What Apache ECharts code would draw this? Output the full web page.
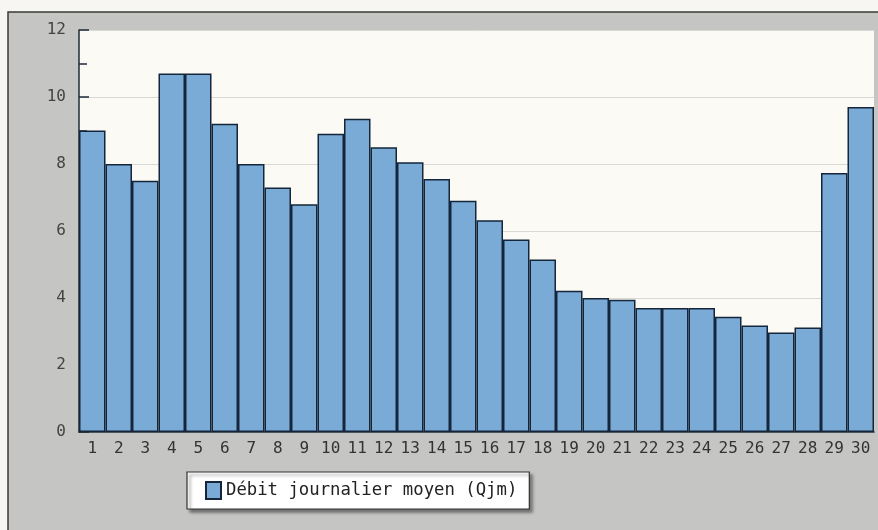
<!DOCTYPE html>
<html><head><meta charset="utf-8">
<script src="https://cdn.jsdelivr.net/npm/echarts@6/dist/echarts.min.js"></script>
<style>html,body{margin:0;padding:0;background:#f7f6f2;}#c{width:878px;height:530px;}</style>
</head><body><div id="c"></div>
<script>
const days = ['1','2','3','4','5','6','7','8','9','10','11','12','13','14','15','16','17','18','19','20','21','22','23','24','25','26','27','28','29','30'];
const qjm = [9.0, 8.0, 7.5, 10.7, 10.7, 9.2, 8.0, 7.3, 6.8, 8.9, 9.35, 8.5, 8.05, 7.55, 6.9, 6.32, 5.75, 5.15, 4.22, 4.0, 3.95, 3.7, 3.7, 3.7, 3.44, 3.18, 2.97, 3.12, 7.73, 9.7];
const yTicks = [0, 2, 4, 6, 8, 10, 12];
const seriesName = 'Débit journalier moyen (Qjm)';

const chart = echarts.init(document.getElementById('c'), null, {renderer: 'canvas'});
const mono = 'DejaVu Sans Mono';
chart.setOption({
  animation: false,
  backgroundColor: '#f7f6f2',
  graphic: [
    {type: 'rect', z: -10, shape: {x: 8, y: 12, width: 880, height: 530},
     style: {fill: '#c5c5c3', stroke: '#3a3a3a', lineWidth: 1.5}},
    {type: 'rect', z: -9, shape: {x: 79, y: 30, width: 795, height: 402},
     style: {fill: '#fbfaf5'}}
  ],
  grid: {left: 79, right: 4, top: 30, bottom: 98, containLabel: false},
  legend: {
    left: 187, top: 472,
    data: [seriesName],
    icon: 'rect', itemWidth: 15, itemHeight: 17, itemGap: 0,
    padding: [9, 12, 9, 18],
    backgroundColor: '#ffffff', borderColor: '#333', borderWidth: 1.2,
    shadowColor: 'rgba(0,0,0,0.45)', shadowBlur: 3, shadowOffsetX: 3, shadowOffsetY: 3,
    textStyle: {fontFamily: mono, fontSize: 17.3, color: '#222', padding: [0, 0, 0, 0]}
  },
  xAxis: {
    type: 'category', data: days,
    axisLine: {show: true, lineStyle: {color: '#1e2a36', width: 1.5}},
    axisTick: {show: false},
    axisLabel: {fontFamily: mono, fontSize: 16, color: '#333', margin: 9, interval: 0}
  },
  yAxis: {
    type: 'value', min: yTicks[0], max: yTicks[yTicks.length - 1], interval: 2,
    axisLine: {show: true, lineStyle: {color: '#1e2a36', width: 1.5}},
    axisTick: {show: true, inside: true, length: 10, lineStyle: {color: '#1e2a36', width: 1.5}},
    minorTick: {show: true, splitNumber: 2, length: 8, lineStyle: {color: '#1e2a36', width: 1.5}},
    axisLabel: {fontFamily: mono, fontSize: 16, color: '#444', margin: 13},
    splitLine: {show: true, lineStyle: {color: '#d8d8d4', width: 1}}
  },
  series: [{
    name: seriesName, type: 'bar', data: qjm,
    barCategoryGap: '0%',
    itemStyle: {color: '#7aaad6', borderColor: '#15263a', borderWidth: 1.5}
  }]
});
</script></body></html>
